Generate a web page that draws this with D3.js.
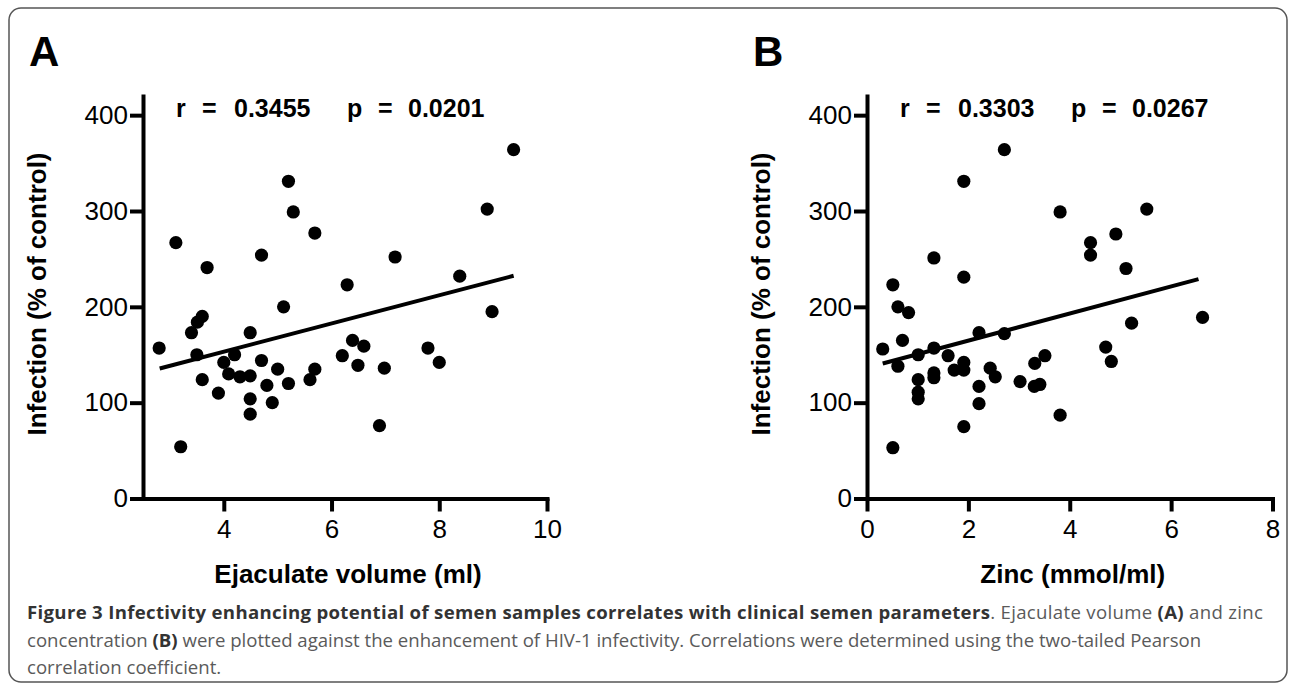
<!DOCTYPE html>
<html>
<head>
<meta charset="utf-8">
<script src="https://cdn.jsdelivr.net/npm/d3@7"></script>
<style>
  html, body { margin: 0; padding: 0; background: #fff; }
  svg { display: block; }
  .axis path, .axis line { stroke: #000; stroke-width: 4; }
  .axis path { stroke-linecap: square; }
  .axis text { font-family: "Liberation Sans", Arial, sans-serif; font-size: 26px; fill: #000; }
</style>
</head>
<body>
<script>
// ---------- Data ----------
const panelLetters = ["A", "B"];
const xTitles = ["Ejaculate volume (ml)", "Zinc (mmol/ml)"];
const yTitle = "Infection (% of control)";
const statsA = ["0.3455", "0.0201"];
const statsB = ["0.3303", "0.0267"];

const yTicks = [0, 100, 200, 300, 400];
const xTicksA = [4, 6, 8, 10];
const xTicksB = [0, 2, 4, 6, 8];

// Panel A: ejaculate volume (ml) vs infection (% of control)
const volumeX = [9.38, 5.20, 5.29, 8.89, 5.69, 3.11, 4.70, 7.18, 3.69, 6.29, 8.38, 5.11, 8.98, 3.60, 3.51,
                 3.40, 4.49, 2.80, 3.50, 4.20, 6.39, 6.60, 7.79, 8.00, 6.20, 6.49, 6.98, 5.69, 5.60, 5.20,
                 5.00, 4.70, 4.00, 4.09, 4.30, 4.49, 3.60, 4.80, 3.90, 4.49, 4.90, 4.49, 6.89, 3.20];
const volumeY = [364, 331, 299, 302, 277, 267, 254, 252, 241, 223, 232, 200, 195, 190, 184,
                 173, 173, 157, 150, 150, 165, 159, 157, 142, 149, 139, 136, 135, 124, 120,
                 135, 144, 142, 130, 127, 128, 124, 118, 110, 104, 100, 88, 76, 54];

// Panel B: zinc (mmol/ml) vs infection (% of control)
const zincX = [2.71, 1.91, 3.81, 5.52, 4.91, 4.41, 4.41, 1.32, 5.11, 1.91, 0.51, 0.61, 0.82, 6.62, 5.22,
               2.21, 2.71, 0.70, 0.31, 1.32, 1.01, 1.60, 4.71, 4.82, 0.61, 1.91, 1.91, 1.72, 2.43, 2.53,
               3.51, 3.31, 1.32, 1.32, 1.01, 3.02, 3.41, 3.30, 2.21, 1.01, 1.01, 2.21, 3.81, 1.91, 0.51];
const zincY = [364, 331, 299, 302, 276, 267, 254, 251, 240, 231, 223, 200, 194, 189, 183,
               173, 172, 165, 156, 157, 150, 149, 158, 143, 138, 142, 134, 134, 136, 127,
               149, 141, 131, 126, 124, 122, 119, 117, 117, 111, 104, 99, 87, 75, 53];

// Linear fit endpoints [x, y]
const fitA = [[2.81, 135.7], [9.38, 232.4]];
const fitB = [[0.31, 140.9], [6.54, 228.9]];

// ---------- Layout ----------
const W = 1290, H = 685;
const FONT = '"Liberation Sans", Arial, sans-serif';
const svg = d3.select("body").append("svg").attr("width", W).attr("height", H);

// Frame
svg.append("rect").attr("x", 9).attr("y", 8).attr("width", 1278).attr("height", 674)
  .attr("rx", 12).attr("ry", 12).attr("fill", "none").attr("stroke", "#555").attr("stroke-width", 1.5);

const y = d3.scaleLinear().domain([0, 420]).range([498.5, 96]);

const panels = [
  { letter: panelLetters[0], letterX: 29, x: d3.scaleLinear().domain([2.5, 10]).range([143, 547]),
    ticks: xTicksA, xs: volumeX, ys: volumeY, fit: fitA, stats: statsA, title: xTitles[0] },
  { letter: panelLetters[1], letterX: 753, x: d3.scaleLinear().domain([0, 8]).range([867, 1272.5]),
    ticks: xTicksB, xs: zincX, ys: zincY, fit: fitB, stats: statsB, title: xTitles[1] }
];

panels.forEach(p => {
  const g = svg.append("g");
  const x0 = p.x.range()[0], x1 = p.x.range()[1];

  // Panel letter
  g.append("text").attr("x", p.letterX).attr("y", 66)
    .attr("font-family", FONT).attr("font-weight", "bold").attr("font-size", 42).text(p.letter);

  // Y axis
  g.append("g").attr("class", "axis").attr("transform", `translate(${x0},0)`)
    .call(d3.axisLeft(y).tickValues(yTicks).tickSize(13).tickSizeOuter(0).tickPadding(2));

  // X axis
  g.append("g").attr("class", "axis").attr("transform", `translate(0,${y(0)})`)
    .call(d3.axisBottom(p.x).tickValues(p.ticks).tickSize(13).tickSizeOuter(0).tickPadding(8));

  // Y title
  g.append("text")
    .attr("transform", `translate(${x0 - 97},294) rotate(-90)`)
    .attr("text-anchor", "middle").attr("font-family", FONT).attr("font-weight", "bold")
    .attr("font-size", 26).text(yTitle);

  // X title
  g.append("text").attr("x", (x0 + x1) / 2 + 3).attr("y", 583)
    .attr("text-anchor", "middle").attr("font-family", FONT).attr("font-weight", "bold")
    .attr("font-size", 26).text(p.title);

  // Stats text
  const parts = [["r", 33], ["=", 59], [p.stats[0], 91], ["p", 204], ["=", 235], [p.stats[1], 265]];
  parts.forEach(([t, dx]) => {
    g.append("text").attr("x", x0 + dx).attr("y", 117)
      .attr("font-family", FONT).attr("font-weight", "bold").attr("font-size", 25).text(t);
  });

  // Fit line
  g.append("line")
    .attr("x1", p.x(p.fit[0][0])).attr("y1", y(p.fit[0][1]))
    .attr("x2", p.x(p.fit[1][0])).attr("y2", y(p.fit[1][1]))
    .attr("stroke", "#000").attr("stroke-width", 4);

  // Points
  g.selectAll("circle").data(p.xs.map((v, i) => [v, p.ys[i]])).join("circle")
    .attr("cx", d => p.x(d[0])).attr("cy", d => y(d[1])).attr("r", 6.6).attr("fill", "#000");
});

// ---------- Caption ----------
const CAP = '"Open Sans", "Noto Sans", sans-serif';
const capLines = [
  [["b", "Figure 3 Infectivity enhancing potential of semen samples correlates with clinical semen parameters"],
   ["r", ". Ejaculate volume "], ["b", "(A)"], ["r", " and zinc"]],
  [["r", "concentration "], ["b", "(B)"],
   ["r", " were plotted against the enhancement of HIV-1 infectivity. Correlations were determined using the two-tailed Pearson"]],
  [["r", "correlation coefficient."]]
];
const capY = [619, 647, 674];
capLines.forEach((line, i) => {
  const t = svg.append("text").attr("x", 27).attr("y", capY[i])
    .attr("font-family", CAP).attr("font-size", 18.6).attr("fill", "#555");
  line.forEach(([w, s]) => {
    t.append("tspan").attr("font-weight", w === "b" ? "bold" : "normal")
      .attr("fill", w === "b" ? "#333" : "#5a5a5a").text(s);
  });
  if (i === 0) t.attr("textLength", 1236).attr("lengthAdjust", "spacing");
});
</script>
</body>
</html>
